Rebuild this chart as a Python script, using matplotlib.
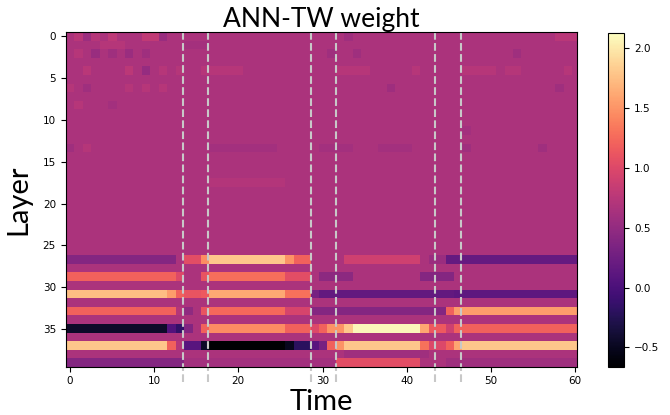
import numpy as np
import matplotlib
matplotlib.use("Agg")
import matplotlib.pyplot as plt

N_LAYERS = 39
N_TIME = 61
BASE = 0.66

# phase boundaries (dashed lines), in time units
boundaries = [13.4, 16.4, 28.6, 31.6, 43.4, 46.4]

# (layer, t_start, t_end, value) -- t ranges inclusive
segments = [
    # small fluctuations in the upper layers
    (0, 1, 1, 0.76), (0, 2, 2, 0.56), (0, 3, 3, 0.74), (0, 5, 5, 0.78),
    (0, 9, 10, 0.80), (0, 11, 11, 0.54), (0, 33, 33, 0.58), (0, 58, 60, 0.76),
    (1, 4, 6, 0.72), (1, 14, 16, 0.62),
    (2, 1, 1, 0.74), (2, 3, 3, 0.54), (2, 5, 5, 0.58), (2, 7, 7, 0.55),
    (2, 9, 9, 0.58), (2, 31, 31, 0.58), (2, 34, 34, 0.58), (2, 53, 53, 0.58),
    (4, 2, 2, 0.76), (4, 7, 7, 0.77), (4, 9, 9, 0.52), (4, 11, 11, 0.74),
    (4, 13, 13, 0.72), (4, 16, 20, 0.74), (4, 32, 35, 0.73), (4, 41, 41, 0.73),
    (4, 47, 50, 0.73), (4, 52, 53, 0.72), (4, 59, 59, 0.73),
    (6, 0, 0, 0.72), (6, 2, 2, 0.58), (6, 7, 7, 0.72), (6, 9, 9, 0.73),
    (6, 11, 11, 0.74), (6, 38, 38, 0.57), (6, 58, 58, 0.58),
    (8, 1, 1, 0.73), (8, 5, 5, 0.61),
    (11, 47, 47, 0.60),
    (13, 0, 0, 0.58), (13, 2, 2, 0.72), (13, 17, 24, 0.60), (13, 30, 33, 0.61),
    (13, 37, 40, 0.60), (13, 47, 47, 0.58), (13, 56, 56, 0.58),
    (17, 17, 25, 0.71),
    # layer 26
    (26, 0, 12, 0.40), (26, 14, 15, 1.05), (26, 16, 16, 1.45), (26, 17, 25, 1.80),
    (26, 26, 26, 1.50), (26, 27, 28, 1.20), (26, 33, 41, 0.90), (26, 43, 44, 0.55),
    (26, 45, 60, 0.18),
    # layer 28
    (28, 0, 12, 1.20), (28, 13, 13, 1.00), (28, 16, 16, 1.10), (28, 17, 25, 1.28),
    (28, 26, 28, 1.05), (28, 30, 33, 0.45), (28, 42, 45, 0.40),
    # layer 30
    (30, 0, 11, 1.75), (30, 12, 12, 1.55), (30, 13, 13, 1.20), (30, 14, 15, 1.10),
    (30, 16, 16, 1.15), (30, 17, 25, 1.62), (30, 26, 28, 1.30), (30, 29, 29, 0.30),
    (30, 30, 45, 0.17), (30, 46, 60, 0.14),
    # layer 32
    (32, 0, 12, 1.20), (32, 13, 13, 0.72), (32, 14, 14, 0.48), (32, 16, 16, 1.10),
    (32, 17, 25, 1.25), (32, 26, 28, 0.95), (32, 29, 44, 0.40), (32, 45, 45, 1.20),
    (32, 46, 60, 1.55),
    # layer 34
    (34, 0, 11, -0.45), (34, 12, 12, 0.05), (34, 13, 13, -0.15), (34, 14, 14, 0.38),
    (34, 16, 16, 1.20), (34, 17, 25, 1.45), (34, 26, 28, 1.20), (34, 29, 29, 1.00),
    (34, 30, 30, 1.20), (34, 31, 32, 1.50), (34, 33, 33, 1.80), (34, 34, 41, 2.08),
    (34, 42, 42, 1.60), (34, 43, 44, 1.15), (34, 45, 45, 0.90), (34, 46, 60, 1.20),
    # layer 36
    (36, 0, 11, 1.80), (36, 12, 12, 1.20), (36, 13, 13, 0.72), (36, 14, 15, 0.10),
    (36, 16, 16, -0.45), (36, 17, 25, -0.66), (36, 26, 26, -0.50), (36, 27, 28, -0.20),
    (36, 29, 29, 0.10), (36, 30, 30, 0.30), (36, 31, 31, 1.20), (36, 32, 32, 1.50),
    (36, 33, 41, 1.80), (36, 42, 42, 1.30), (36, 43, 44, 1.00), (36, 45, 45, 1.20),
    (36, 46, 46, 1.60), (36, 47, 60, 1.80),
    # layer 37
    (37, 33, 42, 0.58),
    # layer 38
    (38, 0, 13, 0.40), (38, 14, 31, 0.60), (38, 32, 41, 1.05), (38, 45, 60, 0.58),
]

VMIN, VMAX = -0.66, 2.12

W = np.full((N_LAYERS, N_TIME), BASE)
for layer, t0, t1, val in segments:
    W[layer, t0:t1 + 1] = val

fig = plt.figure(figsize=(6.7, 4.15), dpi=100)
ax = fig.add_axes([0.098, 0.1165, 0.763, 0.806])
cax = fig.add_axes([0.908, 0.1165, 0.024, 0.803])

im = ax.imshow(W, cmap="magma", vmin=VMIN, vmax=VMAX, aspect="auto",
               interpolation="nearest", extent=(-0.5, 60.5, 39.5, -0.5))
ax.set_xlim(-0.5, 60.2)
ax.set_ylim(39.5, -0.5)

for b in boundaries:
    ax.plot([b, b], [-0.5, 41.5], color="#c8c8c8", linestyle="--",
            linewidth=1.5, clip_on=False)

ax.set_xticks(np.arange(0, 61, 10))
ax.set_yticks(np.arange(0, 36, 5))
ax.tick_params(labelsize=7.5, length=3.5)

ax.set_title("ANN-TW weight", fontsize=19, family="Lato", pad=4)
ax.set_xlabel("Time", fontsize=21, family="Lato", labelpad=2)
ax.set_ylabel("Layer", fontsize=21, family="Lato", labelpad=8)

cb = fig.colorbar(im, cax=cax, ticks=[-0.5, 0.0, 0.5, 1.0, 1.5, 2.0])
cb.ax.tick_params(labelsize=7.5, length=3.5)

fig.savefig("out.png", dpi=100)
